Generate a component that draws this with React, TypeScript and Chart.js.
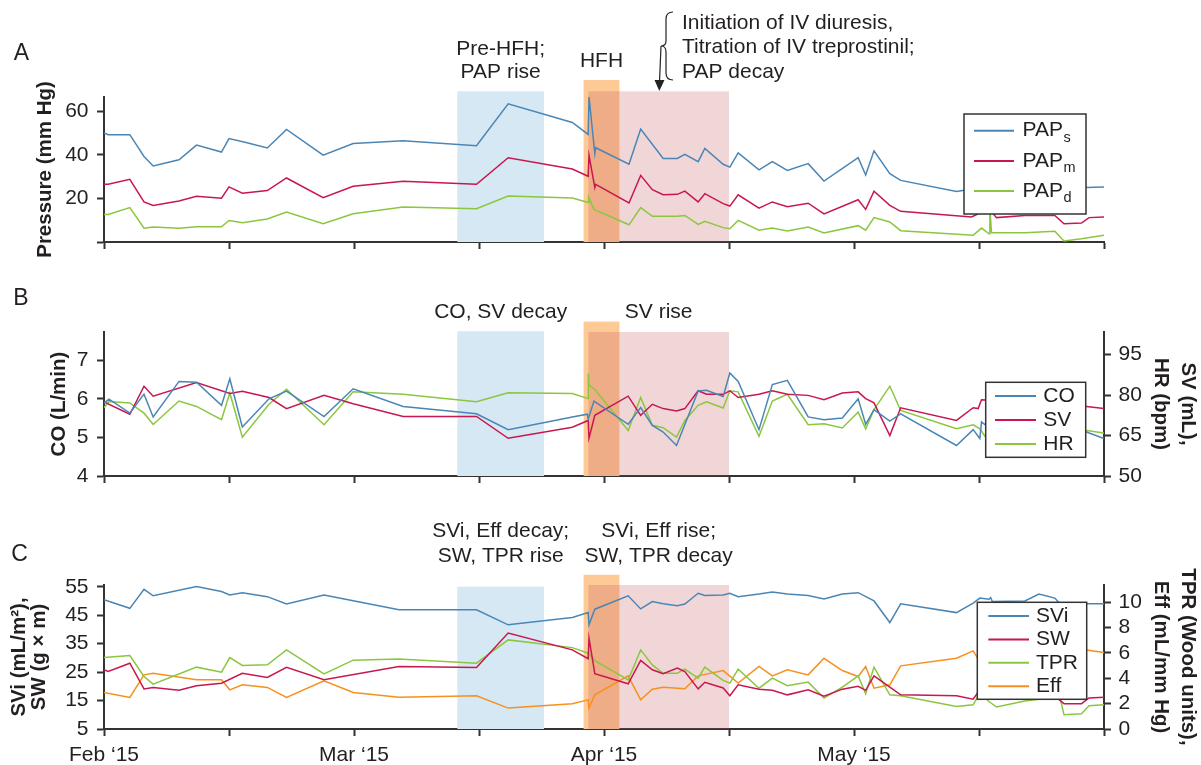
import React, { useEffect, useRef } from 'react';
import { Chart, registerables } from 'chart.js';
Chart.register(...registerables);

const FONT = '"Liberation Sans", Arial, Helvetica, sans-serif';
const TEXT = '#231f20';
const AXIS = '#333333';
const BLUE = '#4a86b5';
const RED = '#c8174f';
const GREEN = '#8cc63e';
const ORANGE = '#f7901e';

// x values are days since 1 Feb 2015
const X_TICKS = [0, 15, 30, 45, 60, 75, 90, 105, 120];
const X_LABELS = ['Feb ‘15', '', 'Mar ‘15', '', 'Apr ‘15', '', 'May ‘15', '', ''];

// shaded periods (days)
const PRE_HFH = [42.4, 52.8];
const HFH = [57.55, 61.85];
const POST_HFH = [58.12, 75.0];

// ---------- Panel A ----------
const PAPS_X = [0, 0.5, 3.1, 4.8, 5.9, 9.0, 11.1, 14.1, 15.0, 16.8, 19.6, 21.9, 26.3, 29.9, 35.9, 44.7, 48.5, 56.2, 58.1, 58.2, 58.9, 59.0, 63.0, 64.4, 67.1, 68.8, 69.7, 71.3, 72.1, 74.3, 75.1, 76.1, 78.6, 80.2, 82.0, 84.5, 86.4, 90.5, 91.4, 92.4, 94.3, 95.6, 102.3, 104.3, 106.3, 107.2, 110.5, 114.1, 117.9, 120];
const PAPS_Y = [50.1, 49.3, 49.3, 39.3, 34.9, 37.8, 44.5, 41.3, 47.5, 45.9, 43.2, 51.7, 39.9, 45.2, 46.5, 44.2, 63.5, 54.9, 49.4, 66.6, 40.6, 43.3, 35.7, 51.9, 38.4, 38.4, 40.3, 36.9, 43.0, 35.7, 34.4, 40.9, 33.1, 36.9, 32.9, 36.0, 28.0, 38.7, 30.8, 41.9, 31.4, 28.3, 23.2, 24.5, 27.0, 24.0, 25.5, 26.0, 25.0, 25.3];
const PAPM_X = [0, 0.5, 3.1, 4.8, 5.9, 9.0, 11.1, 14.1, 15.0, 16.6, 19.6, 21.9, 26.3, 29.9, 35.9, 44.7, 48.5, 56.2, 58.1, 58.2, 58.9, 59.0, 63.0, 64.4, 65.8, 67.1, 68.8, 69.7, 71.3, 72.1, 74.3, 75.1, 76.1, 78.6, 80.2, 82.0, 84.5, 86.4, 90.5, 91.4, 92.4, 94.3, 95.6, 104.1, 105.5, 106.4, 107.1, 110.5, 114.1, 115.2, 117.3, 118.2, 120];
const PAPM_Y = [26.5, 26.5, 28.8, 18.4, 16.8, 18.8, 21.0, 20.1, 25.3, 22.4, 23.6, 29.4, 20.4, 25.6, 27.9, 26.5, 38.7, 33.5, 30.2, 39.8, 25.0, 26.5, 17.9, 30.6, 24.0, 21.7, 21.9, 23.4, 18.4, 22.2, 17.6, 16.5, 21.7, 15.5, 18.4, 16.2, 17.8, 12.9, 19.4, 15.0, 23.3, 16.8, 14.1, 11.5, 14.0, 14.5, 11.2, 12.2, 12.2, 8.4, 8.7, 11.2, 11.5];
const PAPD_X = [0, 0.5, 3.1, 4.8, 5.9, 9.0, 11.1, 14.1, 15.0, 16.6, 19.6, 21.9, 26.3, 29.9, 35.9, 44.7, 48.5, 56.2, 58.1, 58.15, 58.8, 63.0, 64.4, 65.8, 67.1, 68.8, 69.7, 71.3, 72.1, 74.3, 75.1, 76.1, 78.6, 80.2, 82.0, 84.5, 86.4, 90.5, 91.4, 92.4, 94.3, 95.6, 104.3, 105.3, 106.2, 106.3, 106.5, 110.5, 114.1, 115.2, 117.3, 120];
const PAPD_Y = [12.6, 12.6, 15.8, 6.3, 6.9, 6.3, 7.0, 7.0, 9.9, 8.9, 10.6, 13.8, 8.4, 13.0, 16.1, 15.3, 21.1, 20.2, 18.1, 20.7, 15.0, 7.9, 15.8, 11.8, 11.8, 11.8, 12.2, 8.1, 9.5, 6.6, 6.1, 9.9, 5.4, 6.4, 5.1, 6.9, 4.1, 7.5, 5.4, 11.2, 9.2, 5.2, 3.1, 6.4, 3.8, 16.1, 4.3, 4.3, 4.9, 0.5, 1.5, 3.1];
const A_LABELS = ['PAP_s', 'PAP_m', 'PAP_d'];
const A_Y_RANGE = [0, 66.6];
const A_Y_TICKS = [0, 20, 40, 60];
const A_Y_TICK_LABELS = ['', '20', '40', '60'];
const A_REGION_TOPS = [69.2, 74.4, 69.2];

// ---------- Panel B ----------
const CO_X = [0, 0.6, 3.1, 4.8, 5.9, 9.0, 11.1, 14.1, 15.1, 16.6, 19.8, 21.9, 26.4, 29.9, 35.9, 44.7, 48.5, 56.2, 58.0, 58.1, 58.8, 62.9, 64.4, 65.8, 67.1, 68.7, 71.3, 72.3, 74.3, 75.1, 76.1, 78.6, 80.2, 82.0, 84.5, 86.4, 88.6, 90.5, 91.4, 92.4, 94.3, 95.6, 102.3, 104.3, 105.1, 105.3, 107.1, 110.5, 114.8, 117.9, 120];
const CO_Y = [5.89, 5.99, 5.63, 6.12, 5.53, 6.45, 6.43, 5.83, 6.52, 5.27, 6.00, 6.20, 5.54, 6.26, 5.80, 5.61, 5.20, 5.53, 5.60, 5.48, 5.94, 5.34, 5.77, 5.31, 5.14, 4.79, 6.20, 6.22, 6.06, 6.67, 6.45, 5.20, 6.37, 6.48, 5.53, 5.46, 5.50, 6.00, 5.34, 5.72, 5.42, 5.61, 4.79, 5.20, 4.97, 5.40, 5.10, 5.18, 5.27, 5.14, 4.97];
const SV_X = [0, 3.1, 4.8, 5.9, 11.1, 15.1, 16.6, 19.8, 21.9, 26.4, 29.9, 35.9, 44.7, 48.5, 56.2, 58.1, 58.2, 58.9, 62.9, 64.4, 65.8, 67.1, 68.7, 69.7, 71.3, 72.3, 74.3, 75.1, 76.1, 78.6, 80.2, 82.0, 84.5, 86.4, 88.6, 90.5, 91.4, 92.4, 94.3, 95.6, 102.3, 104.3, 104.9, 105.3, 110.5, 114.8, 117.9, 120];
const SV_Y = [77.5, 72.9, 83.3, 79.6, 84.7, 80.6, 81.4, 79.1, 75.0, 79.9, 76.8, 72.1, 72.1, 64.0, 68.1, 70.6, 64.0, 72.5, 79.6, 72.5, 76.6, 75.0, 74.1, 75.0, 81.6, 80.3, 80.3, 81.6, 79.1, 80.3, 81.6, 80.3, 79.9, 78.3, 80.8, 81.2, 78.7, 77.1, 65.0, 75.3, 70.6, 75.3, 75.0, 78.3, 77.4, 76.8, 75.8, 75.0];
const HR_X = [0, 0.6, 3.1, 4.8, 5.9, 9.0, 11.1, 14.1, 15.1, 16.6, 19.8, 21.9, 26.4, 29.9, 35.9, 44.7, 48.5, 56.2, 58.1, 58.12, 58.2, 58.9, 62.9, 64.4, 65.8, 67.1, 68.7, 69.7, 71.3, 72.3, 74.3, 75.1, 76.1, 78.6, 80.2, 82.0, 84.5, 86.4, 88.6, 90.5, 91.4, 92.4, 94.3, 95.6, 102.3, 104.3, 105.1, 105.8, 110.5, 114.8, 117.9, 120];
const HR_Y = [75.3, 77.6, 77.1, 73.3, 69.1, 77.8, 75.8, 70.9, 80.8, 64.4, 76.6, 82.2, 69.0, 81.2, 80.3, 77.5, 80.9, 80.6, 78.7, 88.0, 83.7, 82.1, 66.9, 79.1, 68.8, 67.9, 64.4, 70.6, 76.2, 77.5, 75.2, 81.6, 81.2, 64.7, 77.8, 80.3, 69.0, 69.4, 67.8, 73.7, 67.5, 74.6, 83.3, 74.3, 67.5, 69.0, 67.5, 64.4, 66.9, 67.5, 66.9, 65.9];
const B_LABELS = ['CO', 'SV', 'HR'];
const B_Y_RANGE = [4, 7.73];
const B_Y_TICKS = [4, 5, 6, 7];
const B_Y1_RANGE = [50, 103.4];
const B_Y1_TICKS = [50, 65, 80, 95];
const B_REGION_TOPS = [7.75, 8.0, 7.73];

// ---------- Panel C ----------
const SVI_X = [0, 3.1, 4.8, 5.9, 11.1, 14.1, 15.1, 16.6, 19.6, 21.9, 26.4, 29.9, 35.4, 44.7, 48.5, 56.2, 58.1, 58.2, 58.9, 62.9, 64.4, 65.8, 67.1, 68.8, 69.7, 71.3, 72.1, 74.3, 75.1, 76.1, 78.6, 80.2, 82.0, 84.5, 86.4, 88.6, 90.5, 92.4, 94.3, 95.6, 102.3, 104.3, 105.1, 106.2, 106.4, 106.6, 110.5, 112.2, 114.1, 114.6, 117.9, 120];
const SVI_Y = [50.4, 47.4, 54.1, 51.8, 55.1, 53.3, 52.1, 52.9, 51.5, 48.9, 52.1, 50.1, 46.9, 46.9, 41.6, 44.2, 45.9, 41.6, 47.1, 51.8, 47.2, 49.8, 49.0, 48.3, 48.9, 52.7, 51.9, 52.1, 52.7, 51.5, 52.4, 53.1, 52.4, 51.9, 50.7, 52.4, 52.9, 50.0, 42.4, 49.0, 45.9, 49.2, 51.0, 50.6, 51.2, 49.8, 50.0, 52.4, 51.0, 49.4, 49.0, 49.0];
const SW_X = [0, 0.5, 3.1, 4.8, 5.9, 9.0, 11.1, 14.1, 16.6, 19.6, 21.9, 26.4, 35.4, 44.7, 48.5, 56.2, 58.1, 58.2, 58.9, 62.9, 64.4, 65.8, 67.1, 68.8, 69.7, 71.3, 72.1, 74.3, 75.1, 76.1, 78.6, 80.2, 82.0, 84.5, 86.4, 88.6, 90.5, 91.4, 92.4, 94.3, 95.6, 102.3, 104.3, 105.1, 110.5, 114.1, 115.2, 117.3, 118.2, 120];
const SW_Y = [25.8, 25.2, 28.1, 19.1, 19.6, 18.6, 20.2, 21.1, 24.6, 23.1, 26.7, 22.3, 27.0, 26.6, 38.7, 32.8, 29.7, 36.9, 24.4, 20.9, 29.1, 25.8, 24.4, 26.4, 25.2, 19.1, 21.4, 19.4, 16.7, 20.5, 19.0, 18.6, 17.0, 18.8, 16.5, 19.0, 20.0, 18.6, 23.7, 19.7, 17.0, 16.7, 15.5, 18.8, 17.6, 16.5, 13.9, 13.9, 15.9, 16.2];
const TPR_X = [0, 3.1, 4.8, 5.9, 11.1, 14.1, 15.1, 16.6, 19.6, 21.9, 26.4, 29.9, 35.4, 44.7, 48.5, 56.2, 58.1, 58.9, 62.9, 64.4, 65.8, 67.1, 68.8, 69.7, 71.3, 72.1, 74.3, 75.1, 76.1, 78.6, 80.2, 82.0, 84.5, 86.4, 88.6, 90.5, 91.4, 92.4, 94.3, 95.6, 102.3, 104.3, 105.1, 106.2, 107.1, 110.5, 114.1, 114.6, 115.2, 117.3, 118.2, 120];
const TPR_Y = [5.64, 5.79, 4.14, 3.54, 4.88, 4.48, 5.64, 5.01, 5.06, 6.24, 4.35, 5.43, 5.53, 5.19, 7.03, 6.42, 5.98, 5.40, 3.88, 6.24, 5.06, 4.40, 4.40, 4.72, 4.01, 4.88, 3.83, 3.62, 4.72, 3.22, 4.01, 3.41, 3.70, 2.44, 3.30, 4.19, 2.78, 4.88, 2.70, 2.62, 1.78, 1.91, 2.83, 2.17, 1.73, 2.20, 2.50, 2.83, 1.12, 1.20, 1.83, 1.91];
const EFF_X = [0, 3.1, 4.8, 5.9, 11.1, 14.1, 15.1, 16.6, 19.6, 21.9, 26.4, 29.9, 35.4, 44.7, 48.5, 56.2, 58.1, 58.2, 58.9, 62.9, 64.4, 65.8, 67.1, 69.7, 71.3, 74.3, 76.1, 78.6, 80.2, 82.0, 84.5, 86.4, 88.6, 90.5, 91.4, 92.4, 94.3, 95.6, 102.3, 104.3, 105.1, 110.5, 114.8, 117.9, 120];
const EFF_Y = [2.88, 2.49, 4.27, 4.40, 3.88, 3.88, 3.09, 3.49, 3.28, 2.49, 3.80, 2.88, 2.51, 2.62, 1.65, 1.99, 2.30, 1.65, 2.70, 4.19, 2.30, 3.14, 3.30, 3.17, 4.19, 4.61, 3.62, 4.93, 4.19, 4.67, 4.27, 5.58, 4.61, 4.14, 4.93, 3.22, 3.49, 4.98, 5.58, 6.16, 5.32, 5.98, 6.24, 6.24, 6.03];
const C_LABELS = ['SVi', 'SW', 'TPR', 'Eff'];
const C_Y_RANGE = [5, 55.6];
const C_Y_TICKS = [5, 15, 25, 35, 45, 55];
const C_Y1_RANGE = [0, 11.36];
const C_Y1_TICKS = [0, 2, 4, 6, 8, 10];
const C_REGION_TOPS = [55.0, 59.2, 55.6];

// ---------- helpers ----------
const pts = (xs: number[], ys: number[]) => xs.map((x, i) => ({ x, y: ys[i] }));

const ds = (label: string, xs: number[], ys: number[], color: string, axis = 'y') => ({
  label, data: pts(xs, ys), borderColor: color, backgroundColor: color, borderWidth: 1.5,
  pointRadius: 0, tension: 0, fill: false, yAxisID: axis,
});

const gridCfg = { display: true, drawOnChartArea: false, drawTicks: true, tickLength: 7, tickWidth: 2, tickColor: AXIS };
const borderCfg = { display: true, color: AXIS, width: 2 };
const tickFont = { family: FONT, size: 21 };

function xAxis(showLabels: boolean, height: number) {
  return {
    type: 'linear', min: 0, max: 120, z: 1,
    afterFit: (s: any) => { s.height = height; },
    afterBuildTicks: (s: any) => { s.ticks = X_TICKS.map((v) => ({ value: v })); },
    ticks: { autoSkip: false, maxRotation: 0, minRotation: 0, padding: 6.5, color: TEXT, font: tickFont,
      callback: (_v: any, i: number) => (showLabels ? X_LABELS[i] : '') },
    grid: gridCfg, border: borderCfg,
  };
}

function yAxis(position: string, range: number[], ticks: number[], labels: string[] | null, title: string | string[], titlePad: number, titleLH: number, width: number) {
  return {
    type: 'linear', position, min: range[0], max: range[1], z: 1,
    afterFit: (s: any) => { s.width = width; },
    afterBuildTicks: (s: any) => { s.ticks = ticks.map((v) => ({ value: v })); },
    ticks: { autoSkip: false, padding: position === 'left' ? 8.5 : 7.5, color: TEXT, font: tickFont,
      callback: (v: any, i: number) => (labels ? labels[i] : String(v)) },
    grid: gridCfg, border: borderCfg,
    title: { display: true, text: title, color: TEXT, align: 'center',
      font: { family: FONT, size: 20.5, weight: 'bold', lineHeight: titleLH }, padding: { top: titlePad, bottom: 0 } },
  };
}

const PERIOD_STYLE = [
  { range: PRE_HFH, color: 'rgb(213,232,244)' },
  { range: HFH, color: 'rgb(253,202,150)' },
  { range: POST_HFH, color: 'rgba(194,77,85,0.23)' },
];

function regionsPlugin(tops: number[]) {
  return {
    id: 'regions',
    beforeDatasetsDraw(chart: any) {
      const { ctx, chartArea, scales } = chart;
      ctx.save();
      PERIOD_STYLE.forEach((p, i) => {
        const x0 = scales.x.getPixelForValue(p.range[0]);
        const x1 = scales.x.getPixelForValue(p.range[1]);
        const y0 = scales.y.getPixelForValue(tops[i]);
        ctx.fillStyle = p.color;
        ctx.fillRect(x0, y0, x1 - x0, chartArea.bottom - y0);
      });
      ctx.restore();
    },
  };
}

function text(ctx: any, s: string, x: number, y: number, size = 21, align = 'center') {
  ctx.font = `${size}px ${FONT}`;
  ctx.fillStyle = TEXT;
  ctx.textAlign = align;
  ctx.textBaseline = 'middle';
  ctx.fillText(s, x, y);
}

type LegendBox = { x: number; y: number; w: number; h: number; firstY: number; step: number; lx0: number; lx1: number; tx: number };

function drawLegend(chart: any, box: LegendBox) {
  const ctx = chart.ctx;
  ctx.save();
  ctx.fillStyle = '#ffffff';
  ctx.fillRect(box.x, box.y, box.w, box.h);
  ctx.strokeStyle = AXIS;
  ctx.lineWidth = 1.5;
  ctx.strokeRect(box.x, box.y, box.w, box.h);
  chart.data.datasets.forEach((d: any, i: number) => {
    const y = box.firstY + i * box.step;
    ctx.strokeStyle = d.borderColor;
    ctx.lineWidth = 2;
    ctx.beginPath();
    ctx.moveTo(box.lx0, y);
    ctx.lineTo(box.lx1, y);
    ctx.stroke();
    const [main, sub] = String(d.label).split('_');
    text(ctx, main, box.tx, y, 21, 'left');
    if (sub) {
      ctx.font = `21px ${FONT}`;
      const w = ctx.measureText(main).width;
      text(ctx, sub, box.tx + w + 0.5, y + 7, 14.5, 'left');
    }
  });
  ctx.restore();
}

const regionCenter = (chart: any, r: number[]) => (chart.scales.x.getPixelForValue(r[0]) + chart.scales.x.getPixelForValue(r[1])) / 2;

const annotA = {
  id: 'annotA',
  afterDraw(chart: any) {
    const ctx = chart.ctx;
    ctx.save();
    text(ctx, 'A', 21.5, 54, 23);
    const cb = regionCenter(chart, PRE_HFH);
    text(ctx, 'Pre-HFH;', cb, 49);
    text(ctx, 'PAP rise', cb, 72);
    text(ctx, 'HFH', regionCenter(chart, HFH), 61.5);
    ctx.strokeStyle = '#222';
    ctx.fillStyle = '#222';
    ctx.lineWidth = 1.2;
    ctx.beginPath();
    ctx.moveTo(673, 12);
    ctx.quadraticCurveTo(666, 12, 666, 19);
    ctx.lineTo(666, 41);
    ctx.quadraticCurveTo(666, 46, 661, 46);
    ctx.quadraticCurveTo(666, 46, 666, 52);
    ctx.lineTo(666, 73);
    ctx.quadraticCurveTo(666, 80, 673, 80);
    ctx.stroke();
    ctx.beginPath();
    ctx.moveTo(661, 46);
    ctx.lineTo(659.5, 82);
    ctx.stroke();
    ctx.beginPath();
    ctx.moveTo(654.5, 80);
    ctx.lineTo(664.5, 80);
    ctx.lineTo(659.3, 91);
    ctx.closePath();
    ctx.fill();
    text(ctx, 'Initiation of IV diuresis,', 682, 23, 21, 'left');
    text(ctx, 'Titration of IV treprostinil;', 682, 47, 21, 'left');
    text(ctx, 'PAP decay', 682, 72, 21, 'left');
    ctx.restore();
    drawLegend(chart, { x: 964, y: 114, w: 122, h: 100, firstY: 130.7, step: 30.2, lx0: 974, lx1: 1014, tx: 1022.5 });
  },
};

const annotB = {
  id: 'annotB',
  afterDraw(chart: any) {
    const ctx = chart.ctx;
    ctx.save();
    text(ctx, 'B', 21, 34, 23);
    text(ctx, 'CO, SV decay', regionCenter(chart, PRE_HFH), 47.5);
    text(ctx, 'SV rise', regionCenter(chart, POST_HFH), 47.5);
    ctx.restore();
    drawLegend(chart, { x: 985.7, y: 117.3, w: 100, h: 75, firstY: 131, step: 24, lx0: 995, lx1: 1036, tx: 1043.3 });
  },
};

const annotC = {
  id: 'annotC',
  afterDraw(chart: any) {
    const ctx = chart.ctx;
    ctx.save();
    text(ctx, 'C', 19.5, 54.5, 23);
    const cb = regionCenter(chart, PRE_HFH);
    const cp = regionCenter(chart, POST_HFH);
    text(ctx, 'SVi, Eff decay;', cb, 31);
    text(ctx, 'SW, TPR rise', cb, 56);
    text(ctx, 'SVi, Eff rise;', cp, 31);
    text(ctx, 'SW, TPR decay', cp, 56);
    ctx.restore();
    drawLegend(chart, { x: 977.3, y: 102.3, w: 109.4, h: 97, firstY: 116, step: 23.4, lx0: 988.3, lx1: 1029, tx: 1036 });
  },
};

const baseOptions = (padding: any, scales: any) => ({
  responsive: false,
  animation: false,
  devicePixelRatio: 1,
  layout: { padding },
  plugins: { legend: { display: false }, tooltip: { enabled: false }, title: { display: false } },
  scales,
});

function configA(): any {
  return {
    type: 'line',
    data: { datasets: [
      ds(A_LABELS[0], PAPS_X, PAPS_Y, BLUE),
      ds(A_LABELS[1], PAPM_X, PAPM_Y, RED),
      ds(A_LABELS[2], PAPD_X, PAPD_Y, GREEN),
    ] },
    options: baseOptions({ left: 0, right: 97, top: 97, bottom: 0 }, {
      x: xAxis(false, 23),
      y: yAxis('left', A_Y_RANGE, A_Y_TICKS, A_Y_TICK_LABELS, 'Pressure (mm Hg)', 35.5, 1, 104),
    }),
    plugins: [regionsPlugin(A_REGION_TOPS), annotA],
  };
}

function configB(): any {
  return {
    type: 'line',
    data: { datasets: [
      ds(B_LABELS[0], CO_X, CO_Y, BLUE, 'y'),
      ds(B_LABELS[1], SV_X, SV_Y, RED, 'y1'),
      ds(B_LABELS[2], HR_X, HR_Y, GREEN, 'y1'),
    ] },
    options: baseOptions({ left: 0, right: 0, top: 67, bottom: 0 }, {
      x: xAxis(false, 24),
      y: yAxis('left', B_Y_RANGE, B_Y_TICKS, null, 'CO (L/min)', 48.7, 1, 104),
      y1: yAxis('right', B_Y1_RANGE, B_Y1_TICKS, null, ['SV (mL),', 'HR (bpm)'], 0, 1.32, 97),
    }),
    plugins: [regionsPlugin(B_REGION_TOPS), annotB],
  };
}

function configC(): any {
  return {
    type: 'line',
    data: { datasets: [
      ds(C_LABELS[0], SVI_X, SVI_Y, BLUE, 'y'),
      ds(C_LABELS[1], SW_X, SW_Y, RED, 'y'),
      ds(C_LABELS[2], TPR_X, TPR_Y, GREEN, 'y1'),
      ds(C_LABELS[3], EFF_X, EFF_Y, ORANGE, 'y1'),
    ] },
    options: baseOptions({ left: 0, right: 0, top: 85, bottom: 0 }, {
      x: xAxis(true, 36),
      y: yAxis('left', C_Y_RANGE, C_Y_TICKS, null, ['SVi (mL/m²),', 'SW (g × m)'], 9.3, 0.98, 104),
      y1: yAxis('right', C_Y1_RANGE, C_Y1_TICKS, null, ['TPR (Wood units),', 'Eff (mL/mm Hg)'], 0, 1.3, 97),
    }),
    plugins: [regionsPlugin(C_REGION_TOPS), annotC],
  };
}

export default function App() {
  const refA = useRef<HTMLCanvasElement>(null);
  const refB = useRef<HTMLCanvasElement>(null);
  const refC = useRef<HTMLCanvasElement>(null);
  useEffect(() => {
    Chart.defaults.font.family = FONT;
    const charts = [
      new Chart(refA.current as any, configA()),
      new Chart(refB.current as any, configB()),
      new Chart(refC.current as any, configC()),
    ];
    return () => charts.forEach((c) => c.destroy());
  }, []);
  return (
    <div style={{ position: 'fixed', left: 0, top: 0, width: 1201, height: 765, background: '#fff', overflow: 'hidden' }}>
      <canvas ref={refA} width={1201} height={265} style={{ position: 'absolute', left: 0, top: 0, width: 1201, height: 265 }} />
      <canvas ref={refB} width={1201} height={235} style={{ position: 'absolute', left: 0, top: 265, width: 1201, height: 235 }} />
      <canvas ref={refC} width={1201} height={265} style={{ position: 'absolute', left: 0, top: 500, width: 1201, height: 265 }} />
    </div>
  );
}
